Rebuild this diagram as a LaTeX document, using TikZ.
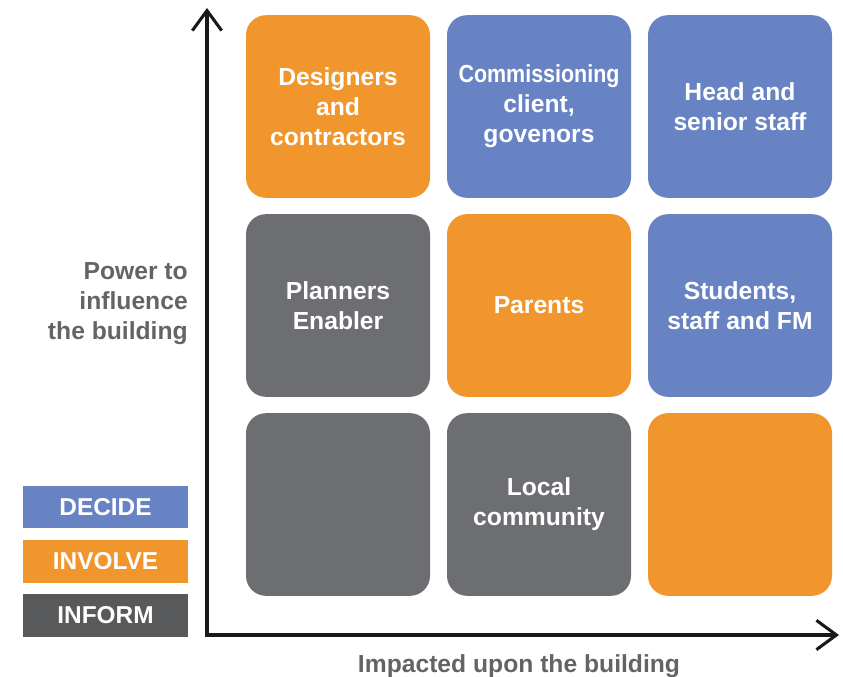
\documentclass[tikz,border=0pt]{standalone}
\usepackage{fontspec}
\setmainfont{Liberation Sans}
\usepackage{xcolor}
\usetikzlibrary{arrows.meta}
\definecolor{Decide}{HTML}{6883C4}
\definecolor{Involve}{HTML}{F0962C}
\definecolor{Inform}{HTML}{6D6E71}
\definecolor{InformDark}{HTML}{58595B}
\definecolor{AxisText}{HTML}{636466}
\tikzset{
  cell/.style={rounded corners=15pt, minimum width=138pt, minimum height=137pt,
    text=white, font=\bfseries\fontsize{18.5}{22.5}\selectfont, align=center, inner sep=0pt},
  decide/.style={cell, fill=Decide},
  involve/.style={cell, fill=Involve},
  inform/.style={cell, fill=Inform},
  key/.style={minimum width=124pt, minimum height=32pt, text=white,
    font=\bfseries\fontsize{18.3}{20}\selectfont, inner sep=0pt},
  axis/.style={draw=black!90, line width=2.3pt, -{Straight Barb[length=15pt,width=22pt,line width=2.3pt]}},
  axislabel/.style={text=AxisText, font=\bfseries\fontsize{18.5}{22.5}\selectfont, inner sep=0pt}
}
\begin{document}
\begin{tikzpicture}[x=0.75pt, y=0.75pt]
  \useasboundingbox (0,0) rectangle (843,676);
  % grid of stakeholders
  \node[involve] (designers) at (338,569.5) {Designers\\and\\contractors};
  \node[decide]  (client)    at (539,569.5) {\scalebox{0.87}[1]{Commissioning}\\client,\\govenors};
  \node[decide]  (head)      at (740,569.5) {Head and\\senior staff};
  \node[inform]  (planners)  at (338,370.5) {Planners\\Enabler};
  \node[involve] (parents)   at (539,370.5) {Parents};
  \node[decide]  (students)  at (740,370.5) {Students,\\staff and FM};
  \node[inform]  (empty)     at (338,171.5) {};
  \node[inform]  (local)     at (539,171.5) {Local\\community};
  \node[involve] (blank)     at (740,171.5) {};
  % legend
  \node[key, fill=Decide]     (kdecide)  at (105.5,169) {DECIDE};
  \node[key, fill=Involve]    (kinvolve) at (105.5,114.5) {INVOLVE};
  \node[key, fill=InformDark] (kinform)  at (105.5,60.5) {INFORM};
  % axes
  \coordinate (O) at (207,41);
  \coordinate (Ytop) at (207,668);
  \coordinate (Xend) at (839,41);
  \draw[axis] (O) -- (Ytop);
  \draw[axis] ([xshift=-1.15pt]O) -- (Xend);
  \node[axislabel, align=right, anchor=east] (power) at (188,372) {Power to\\influence\\the building};
  \node[axislabel] (impact) at (519,10) {Impacted upon the building};
\end{tikzpicture}
\end{document}
